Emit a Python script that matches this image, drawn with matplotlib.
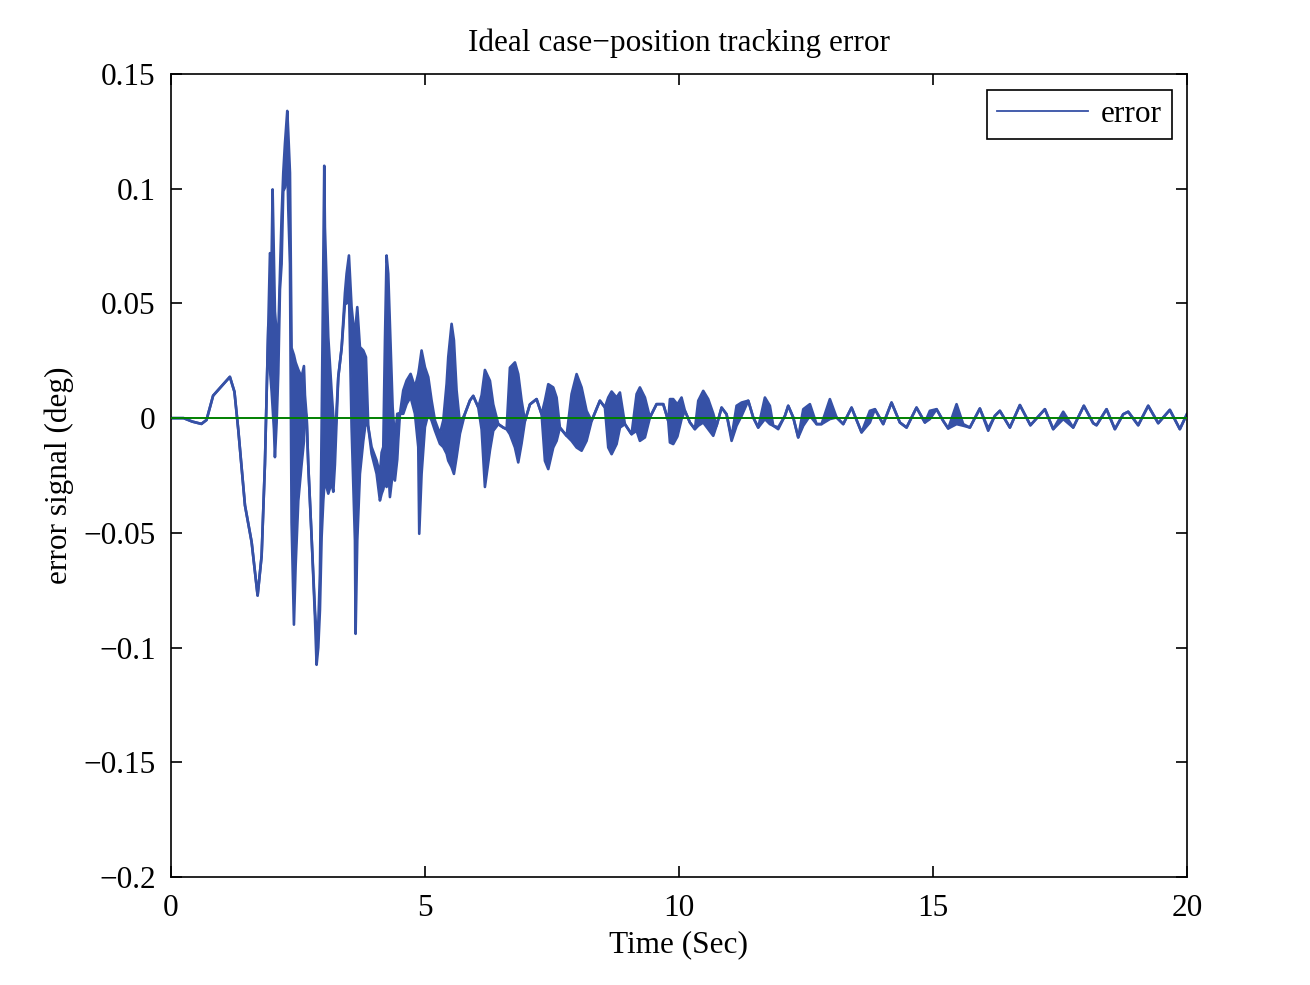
# Ideal case - position tracking error (MATLAB style figure)
import matplotlib
matplotlib.use('Agg')
import matplotlib.pyplot as plt

plt.rcParams['font.family'] = ['Liberation Serif', 'DejaVu Serif']

# time (s) with lower / upper edge of the error trace (deg);
# where the trace is a single line lo == hi, where it chatters the band is filled
t = [0.0, 0.25, 0.42, 0.60, 0.70, 0.83, 1.00, 1.16, 1.25, 1.325,
     1.457, 1.588, 1.706, 1.785, 1.850, 1.903, 1.916, 1.949, 1.982, 2.001,
     2.028, 2.047, 2.080, 2.113, 2.146, 2.178, 2.211, 2.244, 2.290, 2.310,
     2.343, 2.375, 2.421, 2.454, 2.507, 2.572, 2.618, 2.638, 2.671, 2.703,
     2.769, 2.835, 2.867, 2.900, 2.933, 2.966, 2.999, 3.018, 3.031, 3.064,
     3.097, 3.163, 3.196, 3.228, 3.294, 3.360, 3.425, 3.458, 3.504, 3.556,
     3.622, 3.635, 3.668, 3.720, 3.786, 3.839, 3.885, 3.950, 4.049, 4.114,
     4.147, 4.180, 4.213, 4.245, 4.278, 4.311, 4.364, 4.409, 4.455, 4.475,
     4.508, 4.573, 4.639, 4.718, 4.803, 4.869, 4.888, 4.934, 5.000, 5.066,
     5.131, 5.197, 5.295, 5.361, 5.427, 5.459, 5.525, 5.571, 5.623, 5.689,
     5.787, 5.886, 5.951, 6.050, 6.116, 6.181, 6.280, 6.345, 6.444, 6.542,
     6.608, 6.673, 6.772, 6.837, 6.903, 6.969, 7.067, 7.198, 7.297, 7.362,
     7.428, 7.526, 7.592, 7.657, 7.789, 7.887, 7.986, 8.084, 8.182, 8.281,
     8.445, 8.543, 8.609, 8.675, 8.773, 8.839, 8.937, 9.068, 9.167, 9.232,
     9.331, 9.429, 9.560, 9.692, 9.790, 9.823, 9.888, 9.970, 10.052, 10.118,
     10.217, 10.315, 10.381, 10.479, 10.577, 10.676, 10.741, 10.840, 10.938, 11.037,
     11.135, 11.234, 11.365, 11.463, 11.562, 11.693, 11.791, 11.857, 11.955, 12.087,
     12.152, 12.251, 12.349, 12.448, 12.579, 12.710, 12.808, 12.972, 13.104, 13.235,
     13.399, 13.596, 13.760, 13.858, 14.022, 14.186, 14.350, 14.482, 14.678, 14.843,
     14.941, 15.072, 15.203, 15.302, 15.466, 15.597, 15.728, 15.925, 16.089, 16.220,
     16.319, 16.516, 16.713, 16.920, 17.205, 17.369, 17.566, 17.762, 17.972, 18.156,
     18.222, 18.419, 18.583, 18.747, 18.845, 19.042, 19.239, 19.436, 19.665, 19.862, 20.0]

err_lo = [0, 0, -0.0015, -0.0025, -0.0008, 0.0098, 0.014, 0.018, 0.0115, -0.005,
          -0.038, -0.054, -0.0773, -0.060, -0.020, 0.027, 0.040, 0.021, 0.0116, 0.005,
          -0.005, -0.017, -0.002, 0.0195, 0.0561, 0.0672, 0.0989, 0.1005, 0.1116, 0.091,
          0.0672, -0.0456, -0.090, -0.0646, -0.036, -0.0202, -0.010, 0.0037, 0.0005, -0.0202,
          -0.0519, -0.0869, -0.1075, -0.100, -0.0837, -0.0519, -0.036, -0.030, -0.0281, -0.030,
          -0.0329, -0.0281, -0.0321, -0.0202, 0.0179, 0.0306, 0.050, 0.050, 0.0557, -0.0039,
          -0.0533, -0.094, -0.0533, -0.0243, -0.010, -0.001, -0.0039, -0.0155, -0.0243, -0.0359,
          -0.033, -0.031, -0.027, -0.030, -0.0214, -0.0344, -0.0243, -0.0272, -0.018, -0.0097,
          0.0019, 0.0019, 0.0062, 0.0092, 0.0019, -0.0126, -0.0504, -0.0243, -0.0039, 0.0019,
          -0.001, -0.0054, -0.0112, -0.0126, -0.0155, -0.0185, -0.0214, -0.0243, -0.017, -0.0068,
          0.0019, 0.0077, 0.0097, 0.0047, -0.005, -0.030, -0.014, -0.0055, -0.0026, -0.0041,
          -0.0048, -0.007, -0.0128, -0.0193, -0.011, -0.0012, 0.006, 0.0083, 0.0017, -0.0186,
          -0.0222, -0.0128, -0.0099, -0.0041, -0.0077, -0.0099, -0.0128, -0.0142, -0.0099, -0.0012,
          0.0076, 0.0047, -0.0128, -0.0157, -0.0113, -0.0041, -0.0026, -0.007, -0.0055, -0.0099,
          -0.0084, 0.0003, 0.0061, 0.0061, -0.0012, -0.0106, -0.0113, -0.008, -0.0004, 0.0032,
          -0.0019, -0.0048, -0.0033, -0.0019, -0.0048, -0.0077, -0.0033, 0.0046, 0.0017, -0.0099,
          -0.0033, 0.001, 0.0076, 0.0003, -0.0041, -0.0004, -0.0026, -0.0033, -0.0048, 0.001,
          0.0054, 0.0003, -0.0084, -0.0033, 0.001, -0.0026, -0.0026, -0.0004, 0.0003, -0.0026,
          0.0046, -0.0062, -0.0019, 0.0039, -0.0026, 0.0068, -0.0019, -0.0041, 0.0046, -0.0019,
          -0.0004, 0.0039, -0.0012, -0.0045, -0.0026, -0.0033, -0.0041, 0.0042, -0.0055, 0.001,
          0.0032, -0.0041, 0.0057, -0.0031, 0.0039, -0.0048, -0.0004, -0.0041, 0.0054, -0.0022,
          -0.0031, 0.0039, -0.0048, 0.0017, 0.0028, -0.0031, 0.0054, -0.0022, 0.0036, -0.0048, 0.0017]

err_hi = [0, 0, -0.0015, -0.0025, -0.0008, 0.0098, 0.014, 0.018, 0.0115, -0.005,
          -0.038, -0.054, -0.0773, -0.060, -0.020, 0.027, 0.040, 0.0719, 0.0704, 0.0997,
          0.0672, 0.0465, 0.037, 0.037, 0.0624, 0.0878, 0.1069, 0.1196, 0.1339, 0.1243,
          0.1069, 0.0306, 0.0275, 0.0243, 0.0211, 0.0179, 0.0227, 0.010, 0.0005, -0.0202,
          -0.0519, -0.0837, -0.095, -0.090, -0.0678, -0.0043, 0.0656, 0.110, 0.0831, 0.0592,
          0.0354, 0.0116, 0.0005, -0.010, 0.0179, 0.0306, 0.0545, 0.063, 0.0709, 0.0484,
          0.0339, 0.040, 0.0484, 0.031, 0.0295, 0.0266, -0.0039, -0.0126, -0.0185, -0.0243,
          -0.015, -0.0126, 0.0339, 0.0709, 0.0629, 0.0411, 0.0048, -0.0097, 0.0019, 0.002,
          0.0019, 0.0121, 0.0164, 0.0193, 0.0135, 0.0193, 0.022, 0.0295, 0.0222, 0.0179,
          0.0077, -0.001, -0.0068, -0.001, 0.015, 0.0266, 0.0411, 0.0339, 0.0121, -0.0025,
          0.0019, 0.0077, 0.0097, 0.0047, 0.010, 0.021, 0.0163, 0.006, -0.0026, -0.0041,
          -0.0048, 0.022, 0.0243, 0.0192, 0.0076, -0.0012, 0.006, 0.0083, 0.0017, 0.0076,
          0.0148, 0.0134, 0.009, -0.0041, -0.0077, 0.0105, 0.0192, 0.0134, 0.0032, -0.0012,
          0.0076, 0.0047, 0.009, 0.0116, 0.009, 0.0112, -0.0026, -0.007, 0.0105, 0.0134,
          0.009, 0.0003, 0.0061, 0.0061, -0.0012, 0.0083, 0.0083, 0.006, 0.009, 0.0032,
          -0.0019, -0.0048, 0.0076, 0.0119, 0.0083, 0.002, -0.0033, 0.0046, 0.0017, -0.0084,
          0.0054, 0.0068, 0.0076, 0.0003, -0.0041, 0.009, 0.0054, -0.0033, -0.004, 0.001,
          0.0054, 0.0003, -0.0084, 0.0039, 0.0061, -0.0026, -0.0026, 0.0083, 0.0003, -0.0026,
          0.0046, -0.0062, 0.0032, 0.0039, -0.0026, 0.0068, -0.0019, -0.0041, 0.0046, -0.0019,
          0.0032, 0.0039, -0.0012, -0.0045, 0.0061, -0.0026, -0.0041, 0.0042, -0.0045, 0.001,
          0.0032, -0.0041, 0.0057, -0.0031, 0.0039, -0.0048, 0.0028, -0.0041, 0.0054, -0.0022,
          -0.0031, 0.0039, -0.0048, 0.0017, 0.0028, -0.0031, 0.0054, -0.0022, 0.0036, -0.0048, 0.0017]

x_ticks = [0, 5, 10, 15, 20]
y_ticks = [-0.2, -0.15, -0.1, -0.05, 0, 0.05, 0.1, 0.15]
y_labels = ['\u22120.2', '\u22120.15', '\u22120.1', '\u22120.05', '0', '0.05', '0.1', '0.15']

blue = '#3651a6'
fs = 22.5

fig = plt.figure(figsize=(13.1, 9.85), dpi=100)
ax = fig.add_axes([0.1305, 0.1096, 0.7755, 0.8153])

ax.fill_between(t, err_lo, err_hi, color=blue, linewidth=0)
ax.plot(t, err_hi, color=blue, linewidth=1.9, label='error')
ax.plot(t, err_lo, color=blue, linewidth=1.9)
ax.axhline(0, color=(0, 0.5, 0), linewidth=1.4, zorder=5)

ax.set_xlim(0, 20)
ax.set_ylim(-0.2, 0.15)
ax.set_xticks(x_ticks)
ax.set_yticks(y_ticks)
ax.set_yticklabels(y_labels)
ax.tick_params(direction='in', length=8, width=1.2, top=True, right=True,
               labelsize=fs, pad=11)
ax.tick_params(axis='x', pad=12.5)
for s in ax.spines.values():
    s.set_linewidth(1.2)

ax.set_title('Ideal case\u2212position tracking error', fontsize=fs, pad=16.5)
ax.set_xlabel('Time (Sec)', fontsize=fs, labelpad=5)
ax.set_ylabel('error signal (deg)', fontsize=fs, labelpad=7)

leg = ax.legend(loc='upper right', fontsize=fs, fancybox=False, framealpha=1,
                edgecolor='black', handlelength=2.9, handletextpad=0.4,
                borderpad=0.32, borderaxespad=0,
                bbox_to_anchor=(0.985, 0.98))
leg.get_frame().set_linewidth(1.2)
leg.get_lines()[0].set_linewidth(1.3)

fig.savefig('out.png', dpi=100)
